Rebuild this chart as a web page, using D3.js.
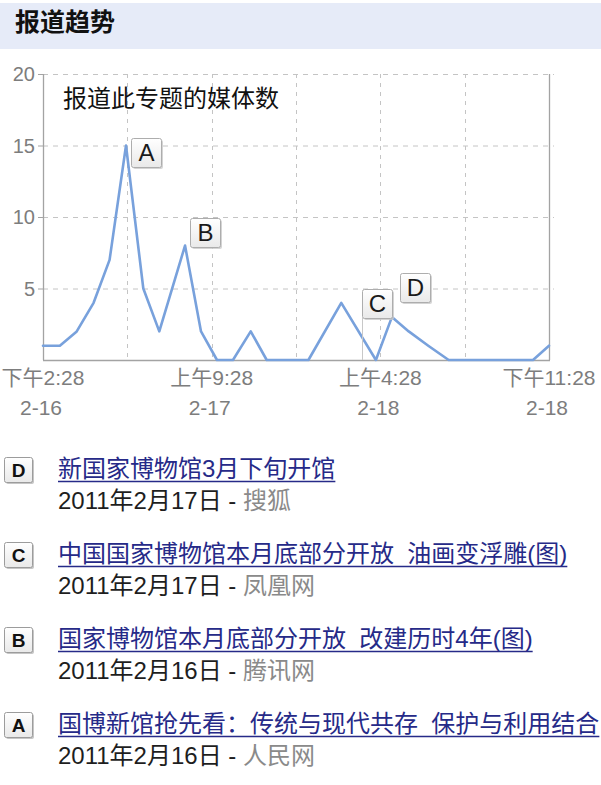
<!DOCTYPE html>
<html><head><meta charset="utf-8">
<script src="https://cdn.jsdelivr.net/npm/d3@7/dist/d3.min.js"></script>
<style>
html,body{margin:0;padding:0;background:#fff;}
svg{display:block;}
text{font-family:"Liberation Sans","Noto Sans CJK SC",sans-serif;}
</style></head><body>
<svg id="c" width="601" height="785"></svg>
<script>
// ---------- data ----------
const title = "报道趋势";
const seriesName = "报道此专题的媒体数";
const hoursFromStart = [0, 1.9, 3.8, 5.7, 7.5, 9.35, 11.3, 13.1, 16.0, 17.8, 19.6, 21.4, 23.4, 25.2, 29.9, 33.6, 37.5, 39.3, 41.2, 43.4, 45.7, 55.2, 57];
const articleCounts  = [1,   1,   2,   4,   7,   15,   5,    2,    8,    2,    0,    0,    2,    0,    0,    4,    0,    3,    2,    1,    0,    0,    1];
const yTicks = [5, 10, 15, 20];
const xTickHours = [0, 19, 38, 57];
const xTickTimes = ["下午2:28", "上午9:28", "上午4:28", "下午11:28"];
const xTickDates = ["2-16", "2-17", "2-18", "2-18"];
const gridHours = [9.5, 19, 28.5, 38, 47.5];
const flagLetters = ["A", "B", "C", "D"];
const flagHours   = [9.35, 16.0, 35.9, 39.3];
const flagValues  = [15, 8, 0, 3];
const storyLetters = ["D", "C", "B", "A"];
const storyTitles = [
  "新国家博物馆3月下旬开馆",
  "中国国家博物馆本月底部分开放  油画变浮雕(图)",
  "国家博物馆本月底部分开放  改建历时4年(图)",
  "国博新馆抢先看：传统与现代共存  保护与利用结合"
];
const storyDates = ["2011年2月17日", "2011年2月17日", "2011年2月16日", "2011年2月16日"];
const storySources = ["搜狐", "凤凰网", "腾讯网", "人民网"];

// ---------- layout ----------
const svg = d3.select("#c");
const W = 601;
const plot = {left: 43, right: 549, top: 74, bottom: 360};
const x = d3.scaleLinear().domain([0, 57]).range([plot.left, plot.right]);
const y = d3.scaleLinear().domain([0, 20]).range([plot.bottom, plot.top]);
const flagLayout = {A: {dx: 5, dy: 21, pole: false}, B: {dx: 5, dy: 1, pole: false},
                    C: {dx: 0, dy: -42, pole: true}, D: {dx: 8, dy: -15, pole: false}};

const defs = svg.append("defs");
const grad = defs.append("linearGradient").attr("id", "boxg").attr("x1", 0).attr("y1", 0).attr("x2", 0).attr("y2", 1);
grad.append("stop").attr("offset", "0%").attr("stop-color", "#ffffff");
grad.append("stop").attr("offset", "100%").attr("stop-color", "#e9e9e9");

// header
svg.append("rect").attr("x", 0).attr("y", 3).attr("width", W).attr("height", 46).attr("fill", "#e6ebf8");
svg.append("text").attr("x", 15).attr("y", 31).attr("font-size", 25).attr("font-weight", "bold")
  .attr("fill", "#111").text(title);

// grid
const g = svg.append("g");
g.selectAll(".hg").data(yTicks).join("line")
  .attr("x1", plot.left).attr("x2", plot.right + 5)
  .attr("y1", d => y(d) + 0.5).attr("y2", d => y(d) + 0.5)
  .attr("stroke", "#c4c4c4").attr("stroke-width", 1).attr("stroke-dasharray", "5,5");
g.selectAll(".vg").data(gridHours).join("line")
  .attr("x1", d => Math.round(x(d)) + 0.5).attr("x2", d => Math.round(x(d)) + 0.5)
  .attr("y1", plot.top).attr("y2", plot.bottom)
  .attr("stroke", "#c4c4c4").attr("stroke-width", 1).attr("stroke-dasharray", "4,5");

// axes
const axisColor = "#a3a3a3";
g.append("line").attr("x1", plot.left + 0.5).attr("x2", plot.left + 0.5).attr("y1", plot.top).attr("y2", plot.bottom)
  .attr("stroke", axisColor).attr("stroke-width", 1.3);
g.append("line").attr("x1", plot.right + 0.5).attr("x2", plot.right + 0.5).attr("y1", plot.top).attr("y2", plot.bottom)
  .attr("stroke", axisColor).attr("stroke-width", 1.3);
g.append("line").attr("x1", plot.left).attr("x2", plot.right + 1).attr("y1", plot.bottom + 0.5).attr("y2", plot.bottom + 0.5)
  .attr("stroke", axisColor).attr("stroke-width", 1.3);
g.selectAll(".lt").data(yTicks).join("line")
  .attr("x1", plot.left - 5).attr("x2", plot.left).attr("y1", d => y(d) + 0.5).attr("y2", d => y(d) + 0.5)
  .attr("stroke", axisColor);
g.selectAll(".ytl").data(yTicks).join("text")
  .attr("x", 35).attr("y", d => y(d) + 7).attr("text-anchor", "end")
  .attr("font-size", 20).attr("fill", "#7d7d7d").text(d => d);

// x labels
g.selectAll(".xt1").data(xTickHours).join("text")
  .attr("x", d => x(d)).attr("y", 385).attr("text-anchor", "middle")
  .attr("font-size", 21).attr("fill", "#7d7d7d").text((d, i) => xTickTimes[i]);
g.selectAll(".xt2").data(xTickHours).join("text")
  .attr("x", d => x(d) - 2).attr("y", 415).attr("text-anchor", "middle")
  .attr("font-size", 21).attr("fill", "#7d7d7d").text((d, i) => xTickDates[i]);

// series name
g.append("text").attr("x", 63).attr("y", 107).attr("font-size", 24).attr("fill", "#111").text(seriesName);

// line
const pts = hoursFromStart.map((h, i) => [h, articleCounts[i]]);
g.append("path").datum(pts)
  .attr("d", d3.line().x(d => x(d[0])).y(d => y(d[1])))
  .attr("fill", "none").attr("stroke", "#78a1dc").attr("stroke-width", 2.6)
  .attr("stroke-linejoin", "round").attr("stroke-linecap", "round");

// flags
const bw = 30, bh = 29;
flagLetters.forEach((L, i) => {
  const ax = x(flagHours[i]), ay = y(flagValues[i]);
  const lay = flagLayout[L];
  const bx = Math.round(ax + lay.dx), byb = Math.round(ay + lay.dy);
  const fg = g.append("g");
  if (lay.pole) {
    fg.append("line").attr("x1", bx + 0.5).attr("x2", bx + 0.5).attr("y1", byb).attr("y2", ay)
      .attr("stroke", "#c8c8c8").attr("stroke-width", 1);
  }
  fg.append("rect").attr("x", bx + 2).attr("y", byb - bh + 2).attr("width", bw).attr("height", bh)
    .attr("rx", 2).attr("fill", "#c9c9c9").attr("opacity", 0.8);
  fg.append("rect").attr("x", bx + 0.5).attr("y", byb - bh + 0.5).attr("width", bw).attr("height", bh)
    .attr("rx", 2).attr("fill", "url(#boxg)").attr("stroke", "#adadad").attr("stroke-width", 1);
  fg.append("text").attr("x", bx + bw / 2 + 0.5).attr("y", byb - 6).attr("text-anchor", "middle")
    .attr("font-size", 24).attr("fill", "#1a1a1a").text(L);
});

// story list
const listTop = 477, listStep = 85;
storyLetters.forEach((L, i) => {
  const base = listTop + i * listStep;
  const sg = svg.append("g");
  sg.append("rect").attr("x", 6).attr("y", base - 18).attr("width", 28).attr("height", 25)
    .attr("rx", 2).attr("fill", "#c6c6c6");
  sg.append("rect").attr("x", 4.5).attr("y", base - 19.5).attr("width", 28).attr("height", 25)
    .attr("rx", 2).attr("fill", "url(#boxg)").attr("stroke", "#9c9c9c");
  sg.append("text").attr("x", 18.5).attr("y", base).attr("text-anchor", "middle")
    .attr("font-size", 19).attr("font-weight", "bold").attr("fill", "#111").text(L);
  const t = sg.append("text").attr("x", 58).attr("y", base).attr("font-size", 24)
    .attr("fill", "#262a88").style("white-space", "pre").text(storyTitles[i]);
  const len = t.node().getComputedTextLength();
  sg.append("line").attr("x1", 58).attr("x2", 58 + len).attr("y1", base + 4.5).attr("y2", base + 4.5)
    .attr("stroke", "#262a88").attr("stroke-width", 1.5);
  const dt = sg.append("text").attr("x", 58).attr("y", base + 32).attr("font-size", 24).style("white-space", "pre");
  dt.append("tspan").attr("fill", "#1e1e1e").text(storyDates[i] + " - ");
  dt.append("tspan").attr("fill", "#8a8a8a").text(storySources[i]);
});
</script>
</body></html>
